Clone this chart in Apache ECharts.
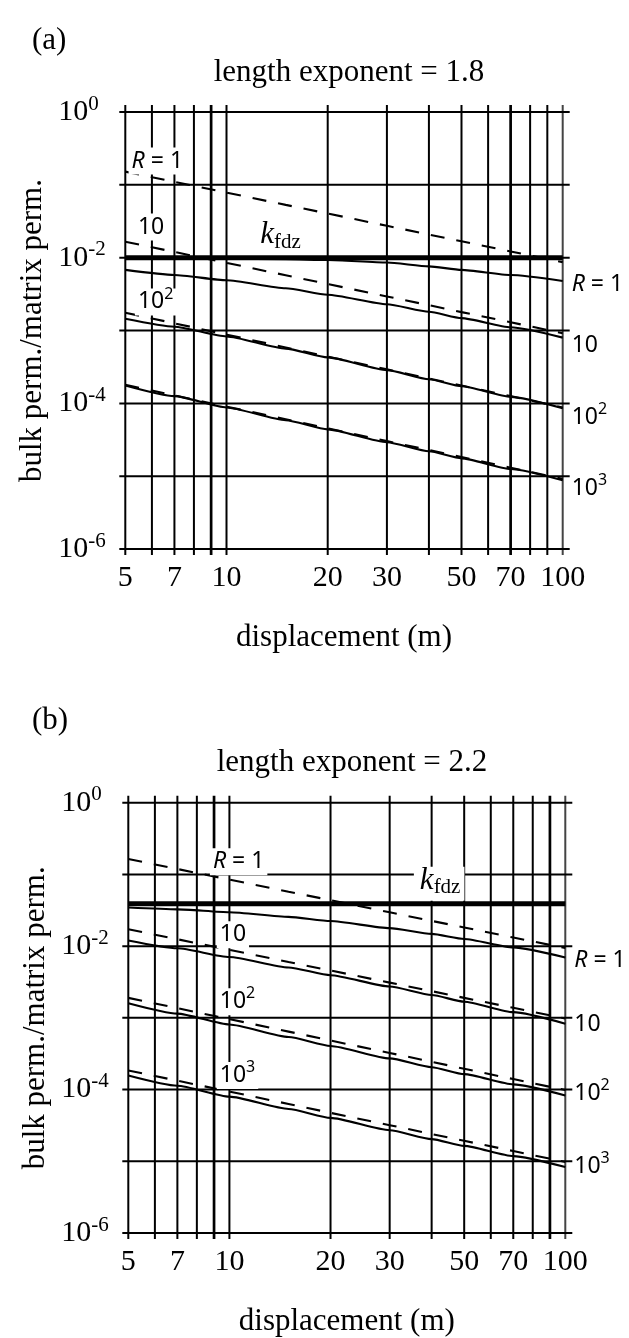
<!DOCTYPE html>
<html><head><meta charset="utf-8">
<script src="https://cdn.jsdelivr.net/npm/echarts@6/dist/echarts.min.js"></script>
<style>html,body{margin:0;padding:0;background:#fff}#c{width:629px;height:1338px}</style>
</head><body><div id="c"></div>
<script>
// ---------------- data ----------------
const displacement = [5, 7, 10, 15, 20, 30, 40, 50, 70, 100];
const xGridValues = [5, 6, 7, 8, 9, 10, 20, 30, 40, 50, 60, 70, 80, 90, 100];
const yGridValues = [1, 1e-1, 1e-2, 1e-3, 1e-4, 1e-5, 1e-6];
const xTickLabels = [5, 7, 10, 20, 30, 50, 70, 100];
const yTickValues = [1, 1e-2, 1e-4, 1e-6];
const panelTitles = ['length exponent = 1.8', 'length exponent = 2.2'];
const panelTags = ['(a)', '(b)'];

// panel (a): length exponent 1.8
const kfdzA = 0.01;
const dashA_R1    = [0.152, 0.110, 0.0783, 0.0531, 0.0404, 0.0274, 0.0208, 0.0168, 0.0122, 0.0087];
const dashA_R10   = [0.0166, 0.0120, 0.00850, 0.00574, 0.00435, 0.00294, 0.00223, 0.00179, 0.00130, 0.00092];
const dashA_R100  = [0.00176, 0.001257, 0.00088, 0.000587, 0.00044, 0.000293, 0.00022, 0.000176, 0.000126, 0.000088];
const dashA_R1000 = [0.000180, 0.000129, 0.0000904, 0.0000605, 0.0000455, 0.0000304, 0.0000229, 0.0000183, 0.0000131, 0.0000092];
const solA_R1     = [0.0099, 0.0098, 0.0097, 0.0095, 0.0093, 0.0086, 0.0076, 0.0068, 0.0058, 0.0048];
const solA_R10    = [0.0068, 0.0058, 0.0049, 0.0038, 0.0031, 0.0023, 0.00181, 0.00148, 0.00111, 0.00080];
const solA_R100   = [0.00145, 0.00113, 0.00083, 0.000565, 0.000428, 0.000286, 0.000215, 0.000172, 0.000123, 0.000086];
const solA_R1000  = [0.000176, 0.0001257, 0.000088, 0.0000587, 0.000044, 0.0000293, 0.000022, 0.0000176, 0.0000126, 0.0000088];

// panel (b): length exponent 2.2
const kfdzB = 0.039;
const dashB_R1    = [0.164, 0.119, 0.0847, 0.0574, 0.0437, 0.0296, 0.0225, 0.0182, 0.0132, 0.0094];
const dashB_R10   = [0.0172, 0.01248, 0.00887, 0.00601, 0.00457, 0.00310, 0.00236, 0.00190, 0.00138, 0.00098];
const dashB_R100  = [0.00190, 0.001364, 0.00096, 0.000643, 0.000483, 0.000324, 0.000244, 0.000195, 0.000140, 0.0000985];
const dashB_R1000 = [0.000185, 0.000133, 0.0000938, 0.0000630, 0.0000474, 0.0000319, 0.0000240, 0.0000193, 0.0000139, 0.0000098];
const solB_R1     = [0.0345, 0.0326, 0.0297, 0.0256, 0.0224, 0.0178, 0.0148, 0.0126, 0.0096, 0.00695];
const solB_R10    = [0.0120, 0.00933, 0.00705, 0.00504, 0.00393, 0.00273, 0.00208, 0.00168, 0.00120, 0.00083];
const solB_R100   = [0.00160, 0.001146, 0.000806, 0.00054, 0.000406, 0.000272, 0.000205, 0.000164, 0.000118, 0.0000827];
const solB_R1000  = [0.000157, 0.000113, 0.0000797, 0.0000536, 0.0000403, 0.0000271, 0.0000204, 0.0000164, 0.0000118, 0.0000083];

// curve annotations (anchor in data coords: left edge / vertical centre)
const annotA = [
  {x: 5.22, y: 0.212, parts: [['R','i'], [' = 1','n']], box: 'lab'},
  {x: 5.45, y: 0.0264, parts: [['10','n']], box: 'lab'},
  {x: 5.45, y: 0.00247, parts: [['10','n'], ['2','sup']], box: 'lab'},
  {x: 12.6, y: 0.0205, parts: [['k','ki'], ['fdz','sub']], box: 'kfdz'},
  {x: 100, dx: 9, y: 0.00435, parts: [['R','i'], [' = 1','n']]},
  {x: 100, dx: 9, y: 0.000634, parts: [['10','n']]},
  {x: 100, dx: 9, y: 6.5e-5, parts: [['10','n'], ['2','sup']]},
  {x: 100, dx: 9, y: 6.9e-6, parts: [['10','n'], ['3','sup']]}
];
const annotB = [
  {x: 8.93, y: 0.150, parts: [['R','i'], [' = 1','n']], box: 'lab'},
  {x: 9.36, y: 0.0144, parts: [['10','n']], box: 'lab'},
  {x: 9.36, y: 0.00168, parts: [['10','n'], ['2','sup']], box: 'lab'},
  {x: 9.36, y: 0.000157, parts: [['10','n'], ['3','sup']], box: 'lab'},
  {x: 36.9, y: 0.0817, parts: [['k','ki'], ['fdz','sub']], box: 'kfdz'},
  {x: 100, dx: 9, y: 0.00627, parts: [['R','i'], [' = 1','n']]},
  {x: 100, dx: 9, y: 0.00082, parts: [['10','n']]},
  {x: 100, dx: 9, y: 8.8e-5, parts: [['10','n'], ['2','sup']]},
  {x: 100, dx: 9, y: 8.4e-6, parts: [['10','n'], ['3','sup']]}
];

// ---------------- styling ----------------
const SERIF = '"Liberation Serif", "Times New Roman", serif';
const SANS = '"Noto Sans", "Open Sans", sans-serif';
const FONTS = {
  n:   {font: '23px ' + SANS, dy: 0},
  i:   {font: 'italic 23px ' + SANS, dy: 0},
  sup: {font: '16px ' + SANS, dy: -8},
  ki:  {font: 'italic 31px ' + SERIF, dy: 0},
  sub: {font: '21px ' + SERIF, dy: 7},
  tb:  {font: '30px ' + SERIF, dy: 0},
  ts:  {font: '21px ' + SERIF, dy: -8}
};
const BOXES = {lab: {padL: 3, padR: 3, h: 27, dy: 0}, kfdz: {padL: 6, padR: 4, h: 34, dy: 3}};
const X_MIN = 5, X_MAX = 100, Y_MIN = 1e-6, Y_MAX = 1;
const GRID_W = 2, THICK_W = 2.7, CURVE_W = 2.1;
const thickX = [[9, 70], [9, 90]];
const grids = [
  {left: 125.3, top: 112, width: 437.4, height: 437.1},
  {left: 128.3, top: 802.7, width: 437.0, height: 437.3}
];

const mctx = document.createElement('canvas').getContext('2d');
function tw(t, font) { mctx.font = font; return mctx.measureText(t).width; }

function pieceGroup(x, y, parts, box) {
  const children = [];
  let total = 0;
  parts.forEach(p => { total += tw(p[0], FONTS[p[1]].font); });
  if (box) {
    const b = BOXES[box];
    children.push({type: 'rect', shape: {x: x - b.padL, y: y + b.dy - b.h / 2, width: total + b.padL + b.padR, height: b.h},
      style: {fill: '#fff'}});
  }
  let cx = x;
  parts.forEach(p => {
    const f = FONTS[p[1]];
    children.push({type: 'text', style: {text: p[0], x: cx, y: y + f.dy, font: f.font, fill: '#000',
      align: 'left', verticalAlign: 'middle'}});
    cx += tw(p[0], f.font);
  });
  return {type: 'group', children};
}

function panelSeries(i, kfdz, dashes, solids, annots) {
  const common = {xAxisIndex: i, yAxisIndex: i, silent: true, animation: false};
  const out = [];
  // vertical grid lines
  out.push(Object.assign({type: 'custom', z: 1, data: xGridValues.map(v => [v, Y_MAX]),
    renderItem: (params, api) => {
      const v = api.value(0);
      const t = api.coord([v, Y_MAX]), b = api.coord([v, Y_MIN]);
      return {type: 'line', shape: {x1: t[0], y1: t[1] - 7, x2: b[0], y2: b[1] + 6},
        style: {stroke: v === X_MAX ? '#444' : '#000', lineWidth: thickX[i].indexOf(v) >= 0 ? THICK_W : GRID_W}};
    }}, common));
  // horizontal grid lines
  out.push(Object.assign({type: 'custom', z: 1, data: yGridValues.map(v => [X_MIN, v]),
    renderItem: (params, api) => {
      const v = api.value(1);
      const l = api.coord([X_MIN, v]), r = api.coord([X_MAX, v]);
      return {type: 'line', shape: {x1: l[0] - 6, y1: l[1], x2: r[0] + 7, y2: r[1]},
        style: {stroke: '#000', lineWidth: GRID_W}};
    }}, common));
  // x tick labels
  out.push(Object.assign({type: 'custom', z: 2, data: xTickLabels.map(v => [v, Y_MIN]),
    renderItem: (params, api) => {
      const v = api.value(0);
      const p = api.coord([v, Y_MIN]);
      return {type: 'text', style: {text: String(v), x: p[0], y: p[1] + 29, font: FONTS.tb.font, fill: '#000',
        align: 'center', verticalAlign: 'middle'}};
    }}, common));
  // y tick labels
  out.push(Object.assign({type: 'custom', z: 2, data: yTickValues.map(v => [X_MIN, v]),
    renderItem: (params, api) => {
      const v = api.value(1);
      const p = api.coord([X_MIN, v]);
      const e = Math.round(Math.log10(v));
      return pieceGroup(p[0] - 67, p[1], [['10', 'tb'], [String(e), 'ts']], null);
    }}, common));
  // curve labels
  out.push(Object.assign({type: 'custom', z: 4, data: annots.map(a => [a.x, a.y]),
    renderItem: (params, api) => {
      const a = annots[params.dataIndex];
      const p = api.coord([a.x, a.y]);
      return pieceGroup(p[0] + (a.dx || 0), p[1], a.parts, a.box);
    }}, common));
  // k_fdz
  out.push(Object.assign({type: 'line', z: 3, data: [[X_MIN, kfdz], [X_MAX, kfdz]], symbol: 'none', clip: false,
    lineStyle: {color: '#000', width: 5}}, common));
  dashes.forEach(d => out.push(Object.assign({type: 'line', z: 3, symbol: 'none',
    data: displacement.map((x, k) => [x, d[k]]),
    lineStyle: {color: '#000', width: CURVE_W, type: [14, 12]}}, common)));
  solids.forEach(d => out.push(Object.assign({type: 'line', z: 3, symbol: 'none', smooth: 0.2, smoothMonotone: 'x',
    data: displacement.map((x, k) => [x, d[k]]),
    lineStyle: {color: '#000', width: CURVE_W}}, common)));
  return out;
}

const axisHidden = {axisLine: {show: false}, axisTick: {show: false}, axisLabel: {show: false}, splitLine: {show: false}};
const nameStyle = {fontFamily: SERIF, fontSize: 31, color: '#000'};
const titleStyle = {fontFamily: SERIF, fontSize: 31, fontWeight: 'normal', color: '#000'};

const option = {
  animation: false,
  backgroundColor: '#fff',
  title: [
    {text: panelTags[0], left: 27, top: 20, textStyle: titleStyle},
    {text: panelTitles[0], left: 344, top: 52, textAlign: 'center', textStyle: titleStyle},
    {text: panelTags[1], left: 27, top: 700, textStyle: titleStyle},
    {text: panelTitles[1], left: 347, top: 742, textAlign: 'center', textStyle: titleStyle}
  ],
  grid: grids.map(g => Object.assign({containLabel: false, show: false}, g)),
  xAxis: [0, 1].map(i => Object.assign({type: 'log', logBase: 10, min: X_MIN, max: X_MAX, gridIndex: i,
    name: 'displacement (m)', nameLocation: 'middle', nameGap: 73, nameTextStyle: nameStyle}, axisHidden)),
  yAxis: [0, 1].map(i => Object.assign({type: 'log', logBase: 10, min: Y_MIN, max: Y_MAX, gridIndex: i,
    name: 'bulk perm./matrix perm.', nameLocation: 'middle', nameRotate: 90, nameGap: 77, nameTextStyle: nameStyle}, axisHidden)),
  series: [].concat(
    panelSeries(0, kfdzA, [dashA_R1, dashA_R10, dashA_R100, dashA_R1000], [solA_R1, solA_R10, solA_R100, solA_R1000], annotA),
    panelSeries(1, kfdzB, [dashB_R1, dashB_R10, dashB_R100, dashB_R1000], [solB_R1, solB_R10, solB_R100, solB_R1000], annotB)
  )
};
const chart = echarts.init(document.getElementById('c'), null, {renderer: 'canvas'});
chart.setOption(option);
</script>
</body></html>
